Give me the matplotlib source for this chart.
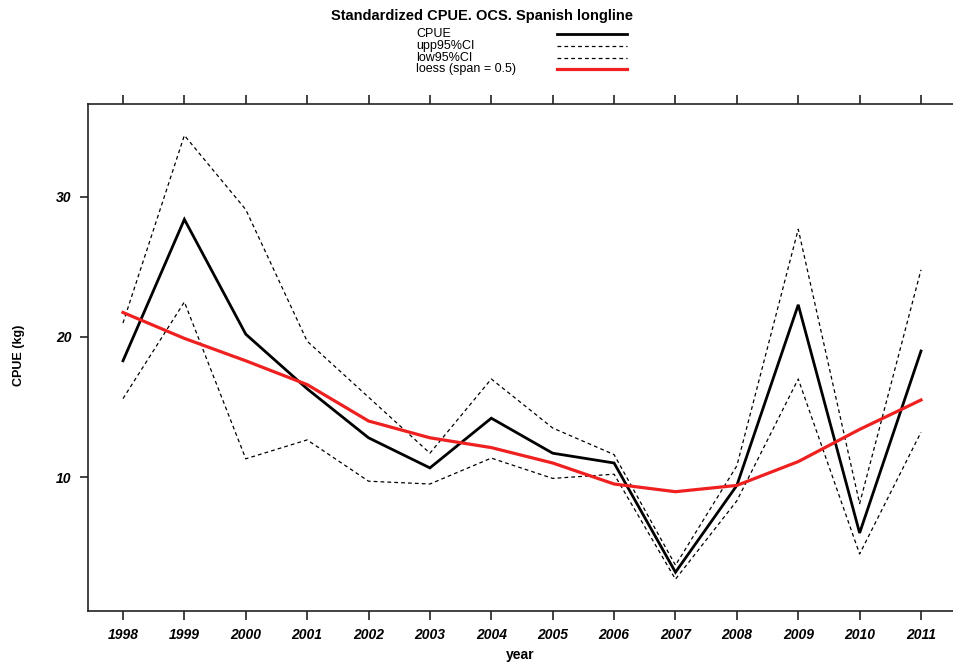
import matplotlib
matplotlib.use('Agg')
import matplotlib.pyplot as plt
from matplotlib.lines import Line2D

# Standardized CPUE series with 95% confidence limits and loess fit
years = [1998, 1999, 2000, 2001, 2002, 2003, 2004, 2005, 2006, 2007, 2008, 2009, 2010, 2011]
cpue = [18.3, 28.4, 20.2, 16.3, 12.8, 10.65, 14.2, 11.7, 11.0, 3.2, 9.4, 22.3, 6.0, 19.0]
upp95 = [21.0, 34.4, 29.1, 19.7, 15.7, 11.7, 17.0, 13.5, 11.6, 3.7, 10.8, 27.7, 8.1, 24.8]
low95 = [15.6, 22.5, 11.3, 12.65, 9.7, 9.5, 11.35, 9.9, 10.2, 2.7, 8.3, 17.0, 4.5, 13.2]
loess = [21.75, 19.9, 18.3, 16.6, 14.0, 12.8, 12.1, 11.0, 9.5, 8.95, 9.4, 11.1, 13.4, 15.5]
y_ticks = [10, 20, 30]

W, H = 954, 666
dpi = 100

plt.rcParams['font.family'] = ['Liberation Sans', 'DejaVu Sans']

fig = plt.figure(figsize=(W / dpi, H / dpi), dpi=dpi)
# plot box in pixel terms: left 88, right 956, top 104, bottom 611
ax = fig.add_axes([88 / W, 1 - 611 / H, (956 - 88) / W, (611 - 104) / H])

dash = (0, (3, 2.5))
ax.plot(years, upp95, color='black', lw=0.9, linestyle=dash)
ax.plot(years, low95, color='black', lw=0.9, linestyle=dash)
ax.plot(years, cpue, color='black', lw=2.0, solid_joinstyle='miter')
ax.plot(years, loess, color='#ee2020', lw=2.3)

ax.set_xlim(1997.43, 2011.57)
ax.set_ylim(0.43, 36.64)

ax.set_xticks(years)
ax.set_xticklabels([str(y) for y in years], fontsize=10, fontweight='bold', fontstyle='italic')
ax.set_yticks(y_ticks)
ax.set_yticklabels([str(v) for v in y_ticks], fontsize=10, fontweight='bold', fontstyle='italic')
ax.tick_params(axis='x', which='both', direction='out', length=6.5, width=1.2,
               top=True, labeltop=False, pad=6, colors='#222222', labelcolor='black')
ax.tick_params(axis='y', direction='out', length=6, width=1.2, pad=6,
               right=False, colors='#222222', labelcolor='black')
for s in ax.spines.values():
    s.set_linewidth(1.2)
    s.set_color('#222222')

fig.text(19 / W, 1 - 355 / H, 'CPUE (kg)', rotation=90, ha='center', va='center',
         fontsize=9, fontweight='bold', family=['Liberation Sans Narrow', 'Liberation Sans'])
fig.text(520 / W, 1 - 655 / H, 'year', ha='center', va='center', fontsize=10, fontweight='bold')

fig.text(482 / W, 1 - 16 / H, 'Standardized CPUE. OCS. Spanish longline',
         ha='center', va='center', fontsize=10.5, fontweight='bold')

# legend: labels on the left, line samples on the right
legend_items = [
    ('CPUE', dict(color='black', lw=2.0)),
    ('upp95%CI', dict(color='black', lw=0.9, linestyle=dash)),
    ('low95%CI', dict(color='black', lw=0.9, linestyle=dash)),
    ('loess (span = 0.5)', dict(color='#ee2020', lw=2.3)),
]
for i, (label, style) in enumerate(legend_items):
    yp = 1 - (34 + 11.8 * i) / H
    fig.text(416 / W, yp, label, ha='left', va='center', fontsize=9)
    fig.add_artist(Line2D([557 / W, 627 / W], [yp, yp], transform=fig.transFigure, **style))

fig.savefig('out.png', dpi=dpi)
